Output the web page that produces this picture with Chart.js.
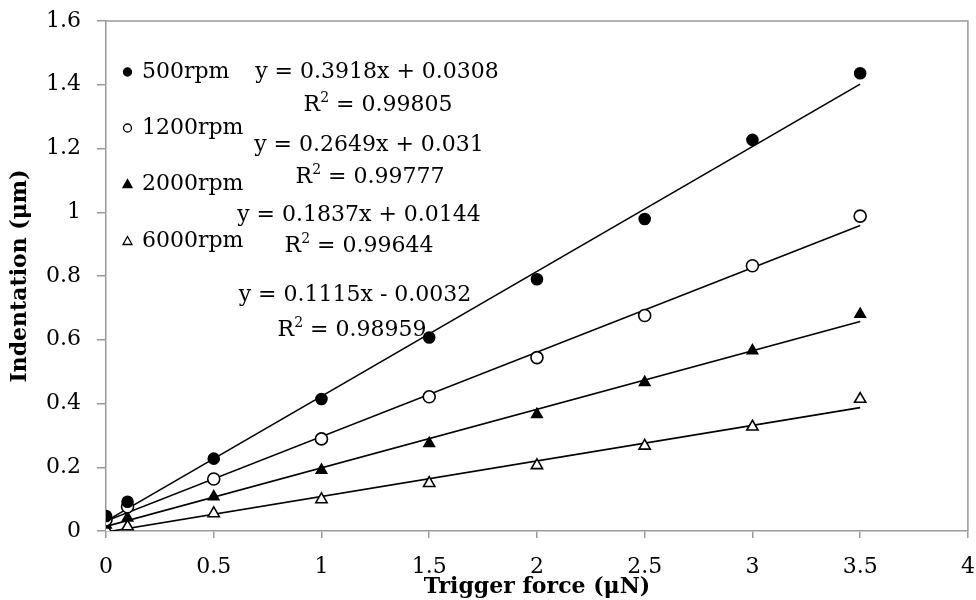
<!DOCTYPE html>
<html>
<head>
<meta charset="utf-8">
<script src="https://cdn.jsdelivr.net/npm/chart.js@4"></script>
<style>
  html, body { margin: 0; padding: 0; background: #fff; }
  #wrap { width: 976px; height: 600px; }
</style>
</head>
<body>
<div id="wrap"><canvas id="indentChart" width="976" height="600"></canvas></div>
<script>
// trigger force values (uN)
const force = [0, 0.1, 0.5, 1, 1.5, 2, 2.5, 3, 3.5];

// indentation (um) per spindle speed
const rpm500 = [0.047, 0.092, 0.227, 0.414, 0.607, 0.790, 0.979, 1.227, 1.436];
const rpm1200 = [0.035, 0.076, 0.163, 0.289, 0.421, 0.544, 0.676, 0.832, 0.988];
const rpm2000 = [0.019, 0.041, 0.108, 0.191, 0.275, 0.366, 0.466, 0.566, 0.680];
const rpm6000 = [0.006, 0.014, 0.055, 0.099, 0.150, 0.206, 0.267, 0.327, 0.414];

const seriesNames = ['500rpm', '1200rpm', '2000rpm', '6000rpm'];

// linear fits as printed on the chart
const slopes = [0.3918, 0.2649, 0.1837, 0.1115];
const intercepts = [0.0308, 0.031, 0.0144, -0.0032];
const eqTexts = ['y = 0.3918x + 0.0308', 'y = 0.2649x + 0.031', 'y = 0.1837x + 0.0144', 'y = 0.1115x - 0.0032'];
const r2Texts = ['0.99805', '0.99777', '0.99644', '0.98959'];

const FONT = 'DejaVu Serif';
const AXIS_GREY = '#9a9a9a';

const styles = [
    { pointStyle: 'circle', fill: '#000', radius: 5.5 },
    { pointStyle: 'circle', fill: '#fff', radius: 6 },
    { pointStyle: 'triangle', fill: '#000', radius: 6 },
    { pointStyle: 'triangle', fill: '#fff', radius: 6.5 },
];

const values = [rpm500, rpm1200, rpm2000, rpm6000];

const pointSets = values.map((vals, i) => ({
    label: seriesNames[i],
    type: 'scatter',
    data: force.map((f, j) => ({ x: f, y: vals[j] })),
    pointStyle: styles[i].pointStyle,
    pointRadius: styles[i].radius,
    pointBackgroundColor: styles[i].fill,
    pointBorderColor: '#000',
    pointBorderWidth: 1.6,
    showLine: false,
    order: 1,
}));

const xFirst = force[0];
const xLast = force[force.length - 1];
const trendSets = slopes.map((m, i) => ({
    label: 'fit ' + seriesNames[i],
    type: 'line',
    data: [
        { x: xFirst, y: m * xFirst + intercepts[i] },
        { x: xLast, y: m * xLast + intercepts[i] },
    ],
    borderColor: '#000',
    borderWidth: 1.6,
    pointRadius: 0,
    fill: false,
    order: 2,
}));

// legend inside the plot + the trendline equations
const notes = {
    id: 'notes',
    afterDraw(chart) {
        const ctx = chart.ctx;
        const area = chart.chartArea;
        ctx.save();
        ctx.strokeStyle = AXIS_GREY;
        ctx.lineWidth = 1.5;
        ctx.beginPath();
        ctx.moveTo(area.left, area.top);
        ctx.lineTo(area.right, area.top);
        ctx.lineTo(area.right, area.bottom);
        ctx.stroke();

        ctx.fillStyle = '#000';
        ctx.font = '22px "' + FONT + '"';
        ctx.textBaseline = 'middle';

        const legendRows = [72, 128, 184, 241];
        seriesNames.forEach((name, i) => {
            const y = legendRows[i];
            const mx = 127.5;
            ctx.fillStyle = styles[i].fill;
            ctx.strokeStyle = '#000';
            ctx.lineWidth = 1.3;
            ctx.beginPath();
            if (styles[i].pointStyle === 'circle') {
                ctx.arc(mx, y, 4, 0, Math.PI * 2);
            } else {
                ctx.moveTo(mx, y - 4.5);
                ctx.lineTo(mx + 4.5, y + 3.5);
                ctx.lineTo(mx - 4.5, y + 3.5);
                ctx.closePath();
            }
            ctx.fill();
            ctx.stroke();
            ctx.fillStyle = '#000';
            ctx.textAlign = 'left';
            ctx.fillText(name, 142, y);
        });

        const eqPos = [[377, 72, 378, 105], [369, 145, 370, 177], [359, 215, 359, 246], [355, 295, 352, 330]];
        ctx.textAlign = 'center';
        eqPos.forEach((p, i) => {
            ctx.fillText(eqTexts[i], p[0], p[1]);
            // R² line with superscript 2
            const rest = ' = ' + r2Texts[i];
            ctx.font = '22px "' + FONT + '"';
            const wR = ctx.measureText('R').width;
            const wRest = ctx.measureText(rest).width;
            ctx.font = '14px "' + FONT + '"';
            const wSup = ctx.measureText('2').width;
            const total = wR + wSup + wRest;
            let x = p[2] - total / 2;
            ctx.textAlign = 'left';
            ctx.font = '22px "' + FONT + '"';
            ctx.fillText('R', x, p[3]);
            x += wR;
            ctx.font = '14px "' + FONT + '"';
            ctx.fillText('2', x, p[3] - 7);
            x += wSup;
            ctx.font = '22px "' + FONT + '"';
            ctx.fillText(rest, x, p[3]);
            ctx.textAlign = 'center';
        });
        ctx.restore();
    },
};

const trimLabel = v => String(+Number(v).toFixed(2));

const ctx = document.getElementById('indentChart').getContext('2d');
new Chart(ctx, {
    type: 'scatter',
    data: { datasets: [...pointSets, ...trendSets] },
    options: {
        responsive: false,
        animation: false,
        layout: { padding: { top: 21, right: 7, left: 0, bottom: 0 } },
        plugins: {
            legend: { display: false },
            tooltip: { enabled: false },
        },
        scales: {
            x: {
                type: 'linear',
                min: 0,
                max: 4,
                afterFit: s => {
                    s.height = 69;
                    s.paddingLeft = 0;
                    s.paddingRight = 0;
                },
                ticks: {
                    stepSize: 0.5,
                    color: '#000',
                    padding: 16,
                    font: { family: FONT, size: 22 },
                    callback: trimLabel,
                },
                grid: {
                    drawOnChartArea: false,
                    drawTicks: true,
                    tickLength: 7,
                    color: AXIS_GREY,
                    lineWidth: 1.5,
                },
                border: { color: AXIS_GREY, width: 1.5 },
                title: {
                    display: true,
                    text: 'Trigger force (μN)',
                    color: '#000',
                    font: { family: FONT, size: 22, weight: 'bold' },
                    padding: { top: 0, bottom: 0 },
                },
            },
            y: {
                type: 'linear',
                min: 0,
                max: 1.6,
                afterFit: s => {
                    s.width = 106;
                    s.paddingTop = 0;
                    s.paddingBottom = 0;
                },
                ticks: {
                    stepSize: 0.2,
                    color: '#000',
                    padding: 16,
                    font: { family: FONT, size: 22 },
                    callback: trimLabel,
                },
                grid: {
                    drawOnChartArea: false,
                    drawTicks: true,
                    tickLength: 9,
                    color: AXIS_GREY,
                    lineWidth: 1.5,
                },
                border: { color: AXIS_GREY, width: 1.5 },
                title: {
                    display: true,
                    text: 'Indentation (μm)',
                    color: '#000',
                    font: { family: FONT, size: 22, weight: 'bold' },
                    padding: { top: 7, bottom: 0 },
                },
            },
        },
    },
    plugins: [notes],
});
</script>
</body>
</html>
